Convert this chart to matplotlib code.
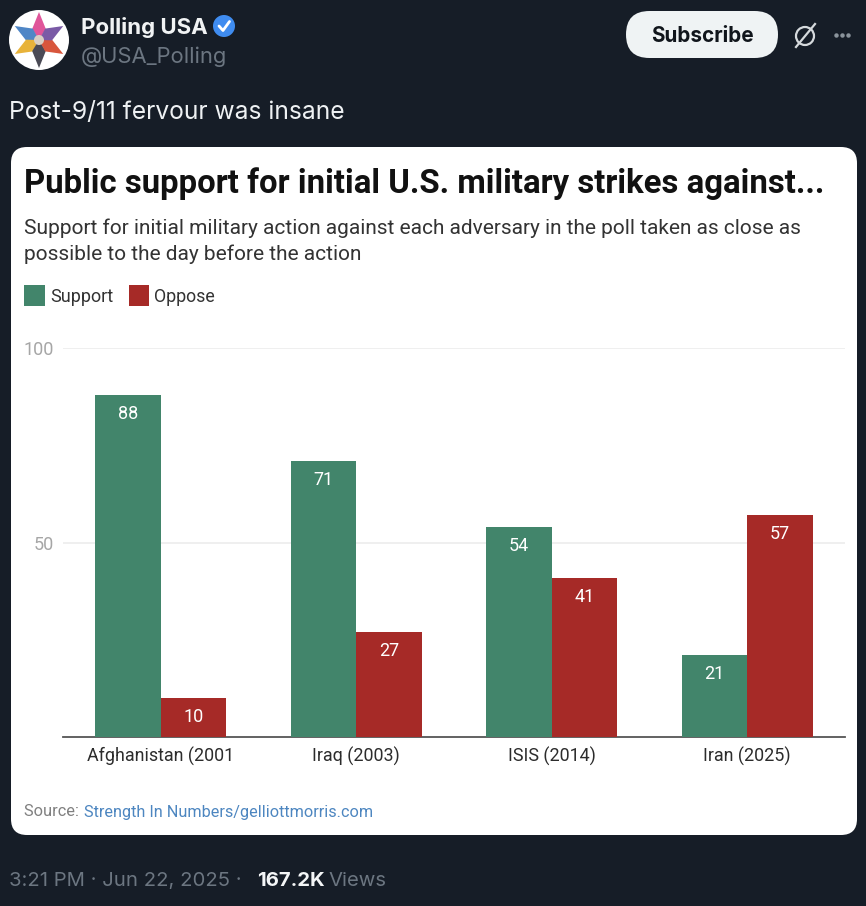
"""Polling USA tweet screenshot with the embedded support/oppose bar chart."""

import matplotlib

matplotlib.use("Agg")
import matplotlib.pyplot as plt
import numpy as np
from matplotlib.patches import Circle, FancyBboxPatch, Polygon, Rectangle

W, H = 866, 906

categories = ["Afghanistan (2001", "Iraq (2003)", "ISIS (2014)", "Iran (2025)"]
support = [88, 71, 54, 21]
oppose = [10, 27, 41, 57]
y_ticks = [50, 100]

BG = "#161d27"
GREEN = "#42856b"
RED = "#a62a27"
MUTED = "#6c7681"
UI_FONT = ["Inter", "DejaVu Sans"]

plt.rcParams["font.family"] = ["Roboto", "DejaVu Sans"]

fig = plt.figure(figsize=(W / 100, H / 100), dpi=100, facecolor=BG)

# overlay in pixel coordinates for the tweet chrome, y pointing down
page = fig.add_axes([0, 0, 1, 1], zorder=0)
page.set_xlim(0, W)
page.set_ylim(H, 0)
page.axis("off")


def txt(x, y, s, size, color, weight="normal", ha="left", family=None):
    return page.text(x, y, s, fontsize=size, color=color, fontweight=weight, ha=ha,
                     va="center", family=family or ["Roboto", "DejaVu Sans"])


# avatar
page.add_patch(Circle((39, 40), 30, facecolor="white", edgecolor="none"))
star_cols = ["#e0559a", "#4f86c6", "#e8b33a", "#4a4a55", "#d8563c", "#7a5aa6"]
for i, col in enumerate(star_cols):
    a = np.pi / 2 + i * np.pi / 3
    tip = (39 + 28 * np.cos(a), 40 - 28 * np.sin(a))
    left = (39 + 13 * np.cos(a + 0.55), 40 - 13 * np.sin(a + 0.55))
    right = (39 + 13 * np.cos(a - 0.55), 40 - 13 * np.sin(a - 0.55))
    page.add_patch(Polygon([tip, left, (39, 40), right], facecolor=col, edgecolor="none"))
page.add_patch(Circle((39, 40), 5, facecolor="#d9cfc4", edgecolor="none"))

txt(81, 27, "Polling USA", 16, "#f1f3f4", "bold", family=UI_FONT)
page.add_patch(Circle((224, 26), 11, facecolor="#3f8cf0", edgecolor="none"))
page.plot([219, 223, 229.5], [26, 30.5, 21.5], color="white", lw=2, solid_capstyle="round")
txt(81, 57, "@USA_Polling", 15.8, MUTED, family=UI_FONT)

# subscribe pill and icons
page.add_patch(FancyBboxPatch((626, 11), 152, 47, boxstyle="round,pad=0,rounding_size=23.5",
                              facecolor="#eff3f4", edgecolor="none"))
txt(702, 36, "Subscribe", 14.9, "#10151b", "bold", ha="center", family=UI_FONT)
page.add_patch(Circle((805, 36), 9, facecolor="none", edgecolor="#d5d9dc", lw=1.6))
page.plot([796, 815], [47, 24], color="#d5d9dc", lw=1.6)
page.plot([836, 842, 848], [35, 35, 35], ls="none", marker="o", ms=2.2, color="#8b949c")

txt(9, 112, "Post-9/11 fervour was insane", 17.7, "#eef1f3", family=UI_FONT)

# footer
footer = [(9, "3:21 PM · Jun 22, 2025 · ", MUTED, "normal"),
          (257, "167.2K", "#f4f6f7", "bold"),
          (328, "Views", MUTED, "normal")]
for fx, s, col, wt in footer:
    txt(fx, 881, s, 14.6, col, wt, family=UI_FONT)

# white card
page.add_patch(FancyBboxPatch((11, 147), 846, 688, boxstyle="round,pad=0,rounding_size=16",
                              facecolor="white", edgecolor="none"))

txt(24, 184, "Public support for initial U.S. military strikes against...", 23.7, "#111111", "bold")
txt(24, 228, "Support for initial military action against each adversary in the poll taken as close as",
    15, "#333333")
txt(24, 254, "possible to the day before the action", 15, "#333333")

# legend
page.add_patch(Rectangle((24, 285), 21, 21, facecolor=GREEN, edgecolor="none"))
txt(50, 297, "Support", 13, "#333333")
page.add_patch(Rectangle((129, 285), 20, 21, facecolor=RED, edgecolor="none"))
txt(154, 297, "Oppose", 12.8, "#333333")

txt(24, 812, "Source: ", 11.8, "#808080")
txt(84, 812, "Strength In Numbers/gelliottmorris.com", 11.7, "#4d86c0")

# chart axes: left 63..845 px, value 0 at y=737, 100 at y=348
ax = fig.add_axes([63 / W, 1 - 737 / H, 782 / W, 389 / H], zorder=1)
ax.patch.set_alpha(0)
x = np.arange(len(categories))
bar_w = 0.335
bars_s = ax.bar(x - bar_w / 2, support, bar_w, color=GREEN, zorder=3)
bars_o = ax.bar(x + bar_w / 2, oppose, bar_w, color=RED, zorder=3)
for bars, vals in ((bars_s, support), (bars_o, oppose)):
    for b, v in zip(bars, vals):
        ax.annotate(str(v), (b.get_x() + b.get_width() / 2, v), xytext=(0, -13.8),
                    textcoords="offset points", ha="center", va="center",
                    color="white", fontsize=13, zorder=4)

ax.set_xlim(-0.5, len(categories) - 0.5)
ax.set_ylim(0, 100)
ax.set_yticks(y_ticks)
ax.set_xticks(x, categories)
ax.grid(axis="y", color="#ececec", lw=1.2, zorder=0)
ax.set_axisbelow(True)
ax.tick_params(axis="both", length=0)
ax.tick_params(axis="x", pad=7, labelsize=12.9, labelcolor="#2c2c2c")
ax.tick_params(axis="y", pad=6.5, labelsize=13, labelcolor="#a6a6a6")
for name in ("top", "left", "right"):
    ax.spines[name].set_visible(False)
ax.spines["bottom"].set_color("#555555")
ax.spines["bottom"].set_linewidth(1.3)

fig.savefig("out.png", dpi=100, facecolor=BG)
